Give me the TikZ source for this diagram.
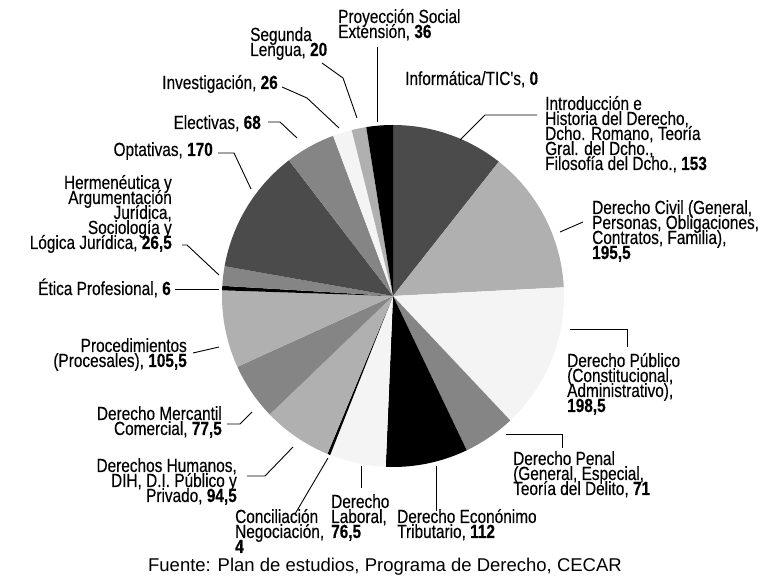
\documentclass[tikz,border=0pt]{standalone}
\usepackage{fontspec}
\setmainfont{Liberation Sans}
\newfontfamily\condfont[FakeStretch=0.81,FakeBold=0.3]{Liberation Sans}
\newcommand\lblfont{\condfont\fontsize{19}{15}\selectfont\lineskiplimit=-50pt\relax}
\definecolor{piedark}{RGB}{75,75,75}
\definecolor{pielight}{RGB}{176,176,176}
\definecolor{piewhite}{RGB}{244,244,244}
\definecolor{piemid}{RGB}{133,133,133}

\begin{document}
\begin{tikzpicture}[x=1pt,y=1pt,
    lbl/.style={font=\lblfont,inner sep=0pt,align=left,anchor=base west},
    lblr/.style={lbl,align=right,anchor=base east},
    lead/.style={line width=0.9pt}]
  \useasboundingbox (0,0) rectangle (769,578);
  \coordinate (ctr) at (393,282);
  \foreach \sa/\ea/\col in {90/51.76/piedark, 51.76/2.91/pielight, 2.91/-46.70/piewhite,
      -46.70/-64.45/piemid, -64.45/-92.44/black, -92.44/-111.56/piewhite,
      -111.56/-112.56/black, -112.56/-136.17/pielight, -136.17/-155.54/piemid,
      -155.54/-181.91/pielight, -181.91/-183.41/black, -183.41/-190.03/piemid,
      -190.03/-232.51/piedark, -232.51/-249.51/piemid, -249.51/-256.01/piewhite,
      -256.01/-261.00/pielight, -261.00/-270/black}
    \fill[\col] (ctr) -- ++(\sa:171) arc[start angle=\sa, end angle=\ea, radius=171] -- cycle;

  % labels
  \node[lbl] at (338,540) (proy) {Proyección Social\\Extensión, \textbf{36}};
  \node[lbl] at (250,522) (seg) {Segunda\\Lengua, \textbf{20}};
  \node[lblr] at (278,489) (inv) {Investigación, \textbf{26}};
  \node[lblr] at (261,449) (elec) {Electivas, \textbf{68}};
  \node[lblr] at (213,422) (opt) {Optativas, \textbf{170}};
  \node[lblr] at (172,329) (herm) {Hermenéutica y\\Argumentación\\Jurídica,\ \\Sociología y\\Lógica Jurídica, \textbf{26,5}};
  \node[lblr] at (171,283) (etica) {Ética Profesional, \textbf{6}};
  \node[lblr] at (187,211) (proc) {Procedimientos\\(Procesales), \textbf{105,5}};
  \node[lblr] at (222,143) (merc) {Derecho Mercantil\\Comercial, \textbf{77,5}};
  \node[lblr] at (237,76) (ddhh) {Derechos Humanos,\\DIH, D.I. Público y\\Privado, \textbf{94,5}};
  \node[lbl] at (235,25) (conc) {Conciliación\\Negociación,\\\textbf{4}};
  \node[lbl] at (331,40) (lab) {Derecho\\Laboral,\\\textbf{76,5}};
  \node[lbl] at (397,40) (econ) {Derecho Econónimo\\Tributario, \textbf{112}};
  \node[lbl] at (513,83) (penal) {Derecho Penal\\(General, Especial,\\Teoría del Delito, \textbf{71}};
  \node[lbl] at (567,166) (pub) {Derecho Público\\(Constitucional,\\Administrativo),\\\textbf{198,5}};
  \node[lbl] at (592,319) (civil) {Derecho Civil (General,\\Personas, Obligaciones,\\Contratos, Familia),\\\textbf{195,5}};
  \node[lbl] at (545,408) (intro) {Introducción e\\Historia del Derecho,\\Dcho. Romano, Teoría\\Gral. del Dcho.,\\Filosofía del Dcho., \textbf{153}};
  \node[lbl] at (405,493) (info) {Informática/TIC\char"27s, \textbf{0}};
  \node[font=\fontsize{18.5}{20}\selectfont,inner sep=0pt,anchor=base] at (385,6) (src) {Fuente: Plan de estudios, Programa de Derecho, CECAR};

  % leader lines
  \coordinate (proyA) at (377,531); \coordinate (proyB) at (377,456);
  \coordinate (segA) at (322,515); \coordinate (segB) at (343,500); \coordinate (segC) at (357,460);
  \coordinate (invA) at (282,491); \coordinate (invB) at (307,480); \coordinate (invC) at (339,450);
  \coordinate (elecA) at (268,456); \coordinate (elecB) at (280,456); \coordinate (elecC) at (297,440);
  \coordinate (optA) at (218,425); \coordinate (optB) at (234,425); \coordinate (optC) at (251,389);
  \coordinate (hermA) at (182,333); \coordinate (hermB) at (187,333); \coordinate (hermC) at (219,303);
  \coordinate (eticaA) at (175,289); \coordinate (eticaB) at (219,289);
  \coordinate (procA) at (193,225); \coordinate (procB) at (219,231);
  \coordinate (mercA) at (227,154); \coordinate (mercB) at (240,154); \coordinate (mercC) at (252,166);
  \coordinate (ddhhA) at (247,102); \coordinate (ddhhB) at (265,102); \coordinate (ddhhC) at (293,131);
  \coordinate (concA) at (295,64); \coordinate (concB) at (328,120);
  \coordinate (labA) at (361,90); \coordinate (labB) at (361,112);
  \coordinate (econA) at (436,67); \coordinate (econB) at (436,112);
  \coordinate (penalA) at (562,130); \coordinate (penalB) at (562,144); \coordinate (penalC) at (506,144);
  \coordinate (pubA) at (627,231); \coordinate (pubB) at (627,249); \coordinate (pubC) at (570,249);
  \coordinate (civilA) at (583,356); \coordinate (civilB) at (560,346);
  \coordinate (introA) at (537,463); \coordinate (introB) at (485,463); \coordinate (introC) at (460,438);
  \draw[lead] (proyA) -- (proyB);
  \draw[lead] (segA) -- (segB) -- (segC);
  \draw[lead] (invA) -- (invB) -- (invC);
  \draw[lead] (elecA) -- (elecB) -- (elecC);
  \draw[lead] (optA) -- (optB) -- (optC);
  \draw[lead] (hermA) -- (hermB) -- (hermC);
  \draw[lead] (eticaA) -- (eticaB);
  \draw[lead] (procA) -- (procB);
  \draw[lead] (mercA) -- (mercB) -- (mercC);
  \draw[lead] (ddhhA) -- (ddhhB) -- (ddhhC);
  \draw[lead] (concA) -- (concB);
  \draw[lead] (labA) -- (labB);
  \draw[lead] (econA) -- (econB);
  \draw[lead] (penalA) -- (penalB) -- (penalC);
  \draw[lead] (pubA) -- (pubB) -- (pubC);
  \draw[lead] (civilA) -- (civilB);
  \draw[lead] (introA) -- (introB) -- (introC);
\end{tikzpicture}
\end{document}
